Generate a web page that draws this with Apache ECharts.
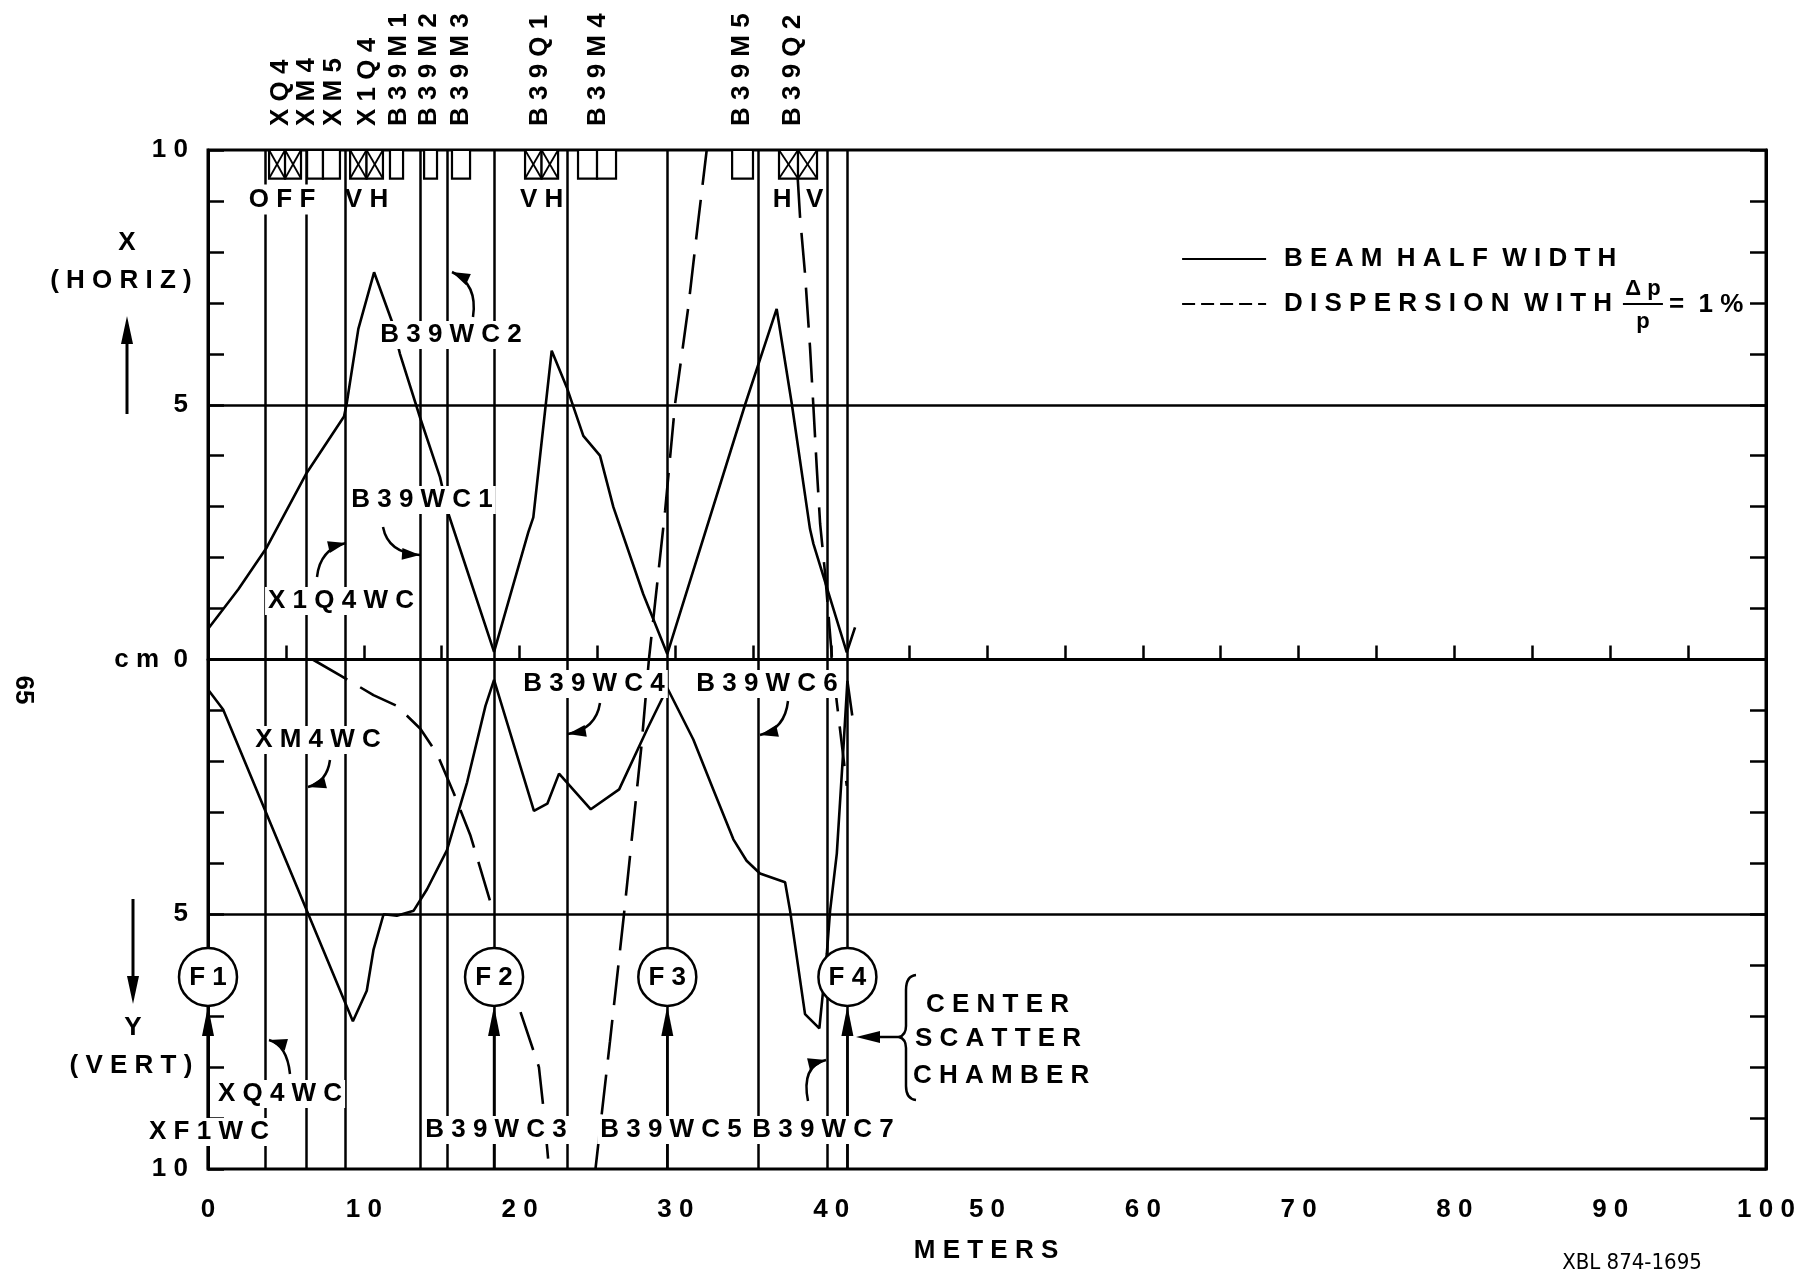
<!DOCTYPE html>
<html>
<head>
<meta charset="utf-8">
<script src="https://cdn.jsdelivr.net/npm/echarts@6/dist/echarts.min.js"></script>
<style>
html,body{margin:0;padding:0;background:#fff;}
#chart{width:1812px;height:1271px;}
</style>
</head>
<body>
<div id="chart"></div>
<script>
// ===================== DATA =====================
// x in meters along the beam line, y in cm (positive = X horizontal, negative = Y vertical)
const xTickValues = [0, 10, 20, 30, 40, 50, 60, 70, 80, 90, 100];
const yTickText = { '10': '10', '5': '5', '0': 'cm 0', '-5': '5', '-10': '10' };

const beamHalfWidthX = [
  [0, 0.60], [1.95, 1.38], [3.77, 2.20], [6.29, 3.64], [8.73, 4.77], [8.90, 5.02],
  [9.65, 6.49], [10.66, 7.60], [11.79, 6.65], [12.32, 6.00], [13.61, 4.75], [14.89, 3.58],
  [15.43, 2.86], [18.36, 0.15], [20.56, 2.50], [20.88, 2.79], [22.06, 6.06], [23.03, 5.34],
  [24.09, 4.39], [25.16, 4.00], [26.02, 2.99], [27.94, 1.28], [29.48, 0.11], [34.47, 5.00],
  [36.50, 6.88], [37.47, 5.02], [38.64, 2.56], [38.86, 2.27], [41.00, 0.14], [41.53, 0.63]
];
const beamHalfWidthY = [
  [0, -0.59], [0.97, -0.98], [9.30, -7.10], [10.19, -6.50], [10.62, -5.70], [11.27, -5.00],
  [12.12, -5.03], [13.20, -4.93], [14.06, -4.51], [15.34, -3.74], [16.63, -2.41], [17.81, -0.91],
  [18.36, -0.40], [20.92, -2.97], [21.78, -2.83], [22.53, -2.24], [24.57, -2.94], [26.39, -2.55],
  [28.20, -1.36], [29.48, -0.56], [31.15, -1.57], [32.43, -2.55], [33.72, -3.53], [34.57, -3.95],
  [35.43, -4.20], [37.04, -4.37], [37.36, -4.93], [38.32, -6.96], [39.24, -7.24], [39.72, -5.77],
  [39.93, -4.93], [40.36, -3.81], [40.79, -1.71], [41.04, -0.42], [41.35, -1.10]
];
const dispersion1 = [
  [6.72, 0.00], [8.48, -0.31], [10.62, -0.70], [12.12, -0.91], [13.63, -1.36],
  [14.70, -1.85], [15.77, -2.62], [16.85, -3.46], [18.36, -5.00]
];
const dispersion2 = [[20.06, -6.92], [21.24, -8.00], [21.57, -8.92], [21.89, -10.00]];
const dispersion3 = [
  [24.87, -10.00], [25.80, -7.50], [26.70, -5.00], [27.82, -1.70], [28.30, 0.00],
  [29.34, 2.92], [29.98, 5.02], [30.83, 6.92], [31.47, 8.62], [32.01, 10.00]
];
const dispersion4 = [
  [37.85, 9.45], [38.00, 8.69], [38.32, 7.57], [38.64, 6.13], [38.86, 4.95], [39.07, 3.78],
  [39.29, 2.66], [39.61, 1.68], [39.82, 0.89], [40.04, 0.07], [40.36, -0.84], [41.00, -2.48]
];

const wireChamberPositions = [3.70, 6.29, 8.84, 13.61, 15.36, 18.36, 23.03, 29.48, 35.29, 39.72, 41.04];
const gridLevels = [5, 0, -5];

const focusNames = ['F1', 'F2', 'F3', 'F4'];
const focusPositions = [0, 18.36, 29.48, 41.04];

const magnetNames = ['XQ4', 'XM4', 'XM5', 'X1Q4', 'B39M1', 'B39M2', 'B39M3', 'B39Q1', 'B39M4', 'B39M5', 'B39Q2'];
const magnetLabelPositions = [4.70, 6.35, 8.05, 10.24, 12.28, 14.20, 16.20, 21.30, 25.00, 34.25, 37.55];
const quadrupoles = [[3.92, 5.97], [9.12, 11.23], [20.35, 22.47], [36.65, 39.09]];
const quadSettings = ['OFF', 'VH', 'VH', 'H V'];
const dipoles = [[6.36, 7.38], [7.38, 8.47], [11.68, 12.52], [13.87, 14.70], [15.66, 16.82],
                 [23.75, 24.97], [24.97, 26.19], [33.64, 34.98]];

const chamberLabels = ['XF1WC', 'XQ4WC', 'XM4WC', 'X1Q4WC', 'B39WC1', 'B39WC2', 'B39WC3',
                       'B39WC4', 'B39WC5', 'B39WC6', 'B39WC7'];
const legendNames = ['BEAM HALF WIDTH', 'DISPERSION WITH'];

// ===================== LAYOUT / STYLE =====================
const FONT = "'Liberation Sans', Arial, sans-serif";
const FS = 26;
const BOLD = `bold ${FS}px ${FONT}`;
const sp = s => s.split(' ').map(w => w.split('').join(' ')).join('  ');
const G = { left: 208, right: 46, top: 150, bottom: 102 };
const FOCUS_LEVEL = -6.23;
const MAGNET_BOTTOM = 9.44;

// label layout (pixel centers)
const chamberLabelPos = [
  [209, 1132], [280, 1094], [318, 740], [341, 601], [422, 500], [451, 335],
  [496, 1130], [594, 684], [671, 1130], [767, 684], [823, 1130]
];
// curved arrows: start, control, tip
const arrowPaths = [
  [290, 1074, 287, 1045, 269, 1040],
  [330, 760, 327, 782, 308, 787],
  [317, 577, 320, 549, 346, 543],
  [383, 527, 388, 553, 420, 555],
  [473, 317, 478, 284, 452, 272],
  [600, 703, 596, 729, 568, 734],
  [788, 701, 785, 729, 760, 735],
  [808, 1101, 801, 1066, 826, 1060]
];

function arrowHead(tx, ty, fx, fy, len, hw) {
  len = len || 20; hw = hw || 6;
  const dx = tx - fx, dy = ty - fy, L = Math.hypot(dx, dy) || 1;
  const ux = dx / L, uy = dy / L;
  const bx = tx - ux * len, by = ty - uy * len;
  return { type: 'polygon', z: 101, silent: true,
    shape: { points: [[tx, ty], [bx - uy * hw, by + ux * hw], [bx + uy * hw, by - ux * hw]] },
    style: { fill: '#000' } };
}
function textEl(s, x, y, opt) {
  opt = opt || {};
  const st = { text: s, font: opt.font || BOLD, fill: '#000',
    align: opt.align || 'center', verticalAlign: 'middle',
    textAlign: opt.align || 'center', textVerticalAlign: 'middle' };
  if (opt.bg) { st.backgroundColor = '#fff'; st.padding = [1, 3]; }
  return { type: 'text', x, y, z: opt.z || 100, rotation: opt.rot || 0, silent: true, style: st };
}
function seg(x1, y1, x2, y2, w) {
  return { type: 'line', z: 101, silent: true, shape: { x1, y1, x2, y2 }, style: { stroke: '#000', lineWidth: w || 2.5 } };
}
function bez(x1, y1, cx, cy, x2, y2, w) {
  return { type: 'bezierCurve', z: 101, silent: true,
    shape: { x1, y1, cpx1: cx, cpy1: cy, x2, y2 }, style: { stroke: '#000', lineWidth: w || 2.5, fill: null } };
}

// ===================== GRAPHIC ANNOTATIONS =====================
const graphics = [];
chamberLabels.forEach((s, i) => graphics.push(textEl(sp(s), chamberLabelPos[i][0], chamberLabelPos[i][1], { bg: true })));
arrowPaths.forEach(a => {
  graphics.push(bez(a[0], a[1], a[2], a[3], a[4], a[5]));
  graphics.push(arrowHead(a[4], a[5], a[2], a[3], 18, 6));
});
// center scatter chamber
graphics.push(textEl(sp('CENTER'), 926, 1005, { align: 'left' }));
graphics.push(textEl(sp('SCATTER'), 915, 1039, { align: 'left' }));
graphics.push(textEl(sp('CHAMBER'), 913, 1076, { align: 'left' }));
graphics.push(bez(916, 975, 906, 976, 906, 990));
graphics.push(seg(906, 990, 906, 1026));
graphics.push(bez(906, 1026, 906, 1035, 899, 1037));
graphics.push(bez(899, 1037, 906, 1039, 906, 1048));
graphics.push(seg(906, 1048, 906, 1086));
graphics.push(bez(906, 1086, 906, 1099, 916, 1100));
graphics.push(seg(899, 1037, 870, 1037));
graphics.push(arrowHead(856, 1037, 899, 1037, 24, 6));
// left side axis titles
graphics.push(textEl('X', 127, 243));
graphics.push(textEl(sp('(HORIZ)'), 121, 281));
graphics.push(seg(127, 414, 127, 335, 3));
graphics.push(arrowHead(127, 316, 127, 414, 28, 6));
graphics.push(seg(133, 899, 133, 985, 3));
graphics.push(arrowHead(133, 1004, 133, 899, 28, 6));
graphics.push(textEl('Y', 133, 1028));
graphics.push(textEl(sp('(VERT)'), 131, 1066));
graphics.push(textEl('65', 23, 690, { rot: -Math.PI / 2 }));
graphics.push(textEl(sp('METERS'), 986, 1251));
graphics.push(textEl('XBL 874-1695', 1632, 1263, { font: `22px 'Liberation Sans Narrow', 'DejaVu Sans Condensed', ${FONT}` }));

// legend fraction, placed after the measured legend text
const LEG_LEFT = 1181, LEG_TOP = 244, LEG_ICON = 84, LEG_PAD = 13;
const mctx = document.createElement('canvas').getContext('2d');
mctx.font = BOLD;
const dispTextW = mctx.measureText(sp(legendNames[1])).width;
const fracX = LEG_LEFT + LEG_ICON + 5 + LEG_PAD + dispTextW + 12;
graphics.push(textEl('\u0394 p', fracX + 20, 289, { font: `bold 22px ${FONT}` }));
graphics.push(seg(fracX, 304, fracX + 40, 304, 2));
graphics.push(textEl('p', fracX + 20, 322, { font: `bold 22px ${FONT}` }));
graphics.push(textEl('=  1 %', fracX + 46, 305, { align: 'left' }));

// ===================== CUSTOM RENDERERS =====================
function renderMagnet(params, api) {
  const x0 = api.value(0), x1 = api.value(1), crossed = api.value(2) === 1, qi = api.value(3);
  const tl = api.coord([x0, 10]), br = api.coord([x1, MAGNET_BOTTOM]);
  const mid = (tl[0] + br[0]) / 2;
  const halves = crossed ? [[tl[0], mid], [mid, br[0]]] : [[tl[0], br[0]]];
  const children = [];
  halves.forEach(h => {
    children.push({ type: 'rect', shape: { x: h[0], y: tl[1], width: h[1] - h[0], height: br[1] - tl[1] },
      style: { fill: '#fff', stroke: '#000', lineWidth: 2.2 } });
    if (crossed) {
      children.push({ type: 'line', shape: { x1: h[0], y1: tl[1], x2: h[1], y2: br[1] }, style: { stroke: '#000', lineWidth: 1.8 } });
      children.push({ type: 'line', shape: { x1: h[1], y1: tl[1], x2: h[0], y2: br[1] }, style: { stroke: '#000', lineWidth: 1.8 } });
    }
  });
  if (crossed && qi >= 0) {
    const s = quadSettings[qi];
    const st = { text: s === 'H V' ? 'H  V' : sp(s), font: BOLD, fill: '#000', align: 'center', verticalAlign: 'middle' };
    if (s === 'OFF') { st.backgroundColor = '#fff'; st.padding = [2, 4]; }
    children.push({ type: 'text', x: mid - (s === 'OFF' ? 3 : 0), y: br[1] + 21, style: st });
  }
  return { type: 'group', children };
}
function renderMagnetLabel(params, api) {
  const p = api.coord([api.value(0), 10]);
  return { type: 'text', x: p[0], y: p[1] - 24, rotation: Math.PI / 2,
    style: { text: sp(magnetNames[api.value(1)]), font: BOLD, fill: '#000', align: 'left', verticalAlign: 'middle' } };
}
function renderFocus(params, api) {
  const x = api.value(0), i = api.value(1);
  const c = api.coord([x, FOCUS_LEVEL]);
  const bottom = api.coord([x, -10])[1];
  const r = 29, tipY = c[1] + r;
  return { type: 'group', children: [
    { type: 'line', shape: { x1: c[0], y1: tipY + 20, x2: c[0], y2: bottom }, style: { stroke: '#000', lineWidth: 2.5 } },
    { type: 'polygon', shape: { points: [[c[0], tipY], [c[0] - 6, tipY + 30], [c[0] + 6, tipY + 30]] }, style: { fill: '#000' } },
    { type: 'circle', shape: { cx: c[0], cy: c[1], r }, style: { fill: '#fff', stroke: '#000', lineWidth: 2.5 } },
    { type: 'text', x: c[0], y: c[1] + 1, style: { text: sp(focusNames[i]), font: BOLD, fill: '#000', align: 'center', verticalAlign: 'middle' } }
  ] };
}

// ===================== OPTION =====================
const solid = { color: '#000', width: 2.6, type: 'solid' };
const dashed = { color: '#000', width: 2.6, type: [40, 15] };
function curve(name, data, ls) {
  return { name, type: 'line', data, showSymbol: false, symbol: 'none', smooth: false, z: 3,
    lineStyle: ls, itemStyle: { color: '#000' }, silent: true, clip: true };
}

const option = {
  animation: false,
  backgroundColor: '#fff',
  textStyle: { fontFamily: FONT },
  grid: { left: G.left, right: G.right, top: G.top, bottom: G.bottom, show: true, borderColor: '#000', borderWidth: 3, containLabel: false },
  legend: {
    left: LEG_LEFT, top: LEG_TOP, padding: 0, orient: 'vertical', itemWidth: LEG_ICON, itemHeight: 14, itemGap: 15,
    selectedMode: false,
    formatter: n => sp(n),
    itemStyle: { color: 'rgba(0,0,0,0)', borderWidth: 0, opacity: 0 },
    textStyle: { fontSize: FS, fontWeight: 'bold', fontFamily: FONT, color: '#000', lineHeight: 30, padding: [0, 0, 0, LEG_PAD] },
    data: [
      { name: legendNames[0], lineStyle: { type: 'solid', width: 2.2, color: '#000' } },
      { name: legendNames[1], lineStyle: { type: [13, 6], width: 2.2, color: '#000' } }
    ]
  },
  xAxis: [{
    type: 'value', min: 0, max: 100, interval: 5, position: 'bottom',
    axisLine: { lineStyle: { color: '#000', width: 3 } },
    axisTick: { inside: true, length: 14, lineStyle: { color: '#000', width: 2.5 } },
    axisLabel: { formatter: v => (xTickValues.indexOf(v) >= 0 ? sp(String(v)) : ''), fontSize: FS, fontWeight: 'bold', color: '#000', margin: 28, fontFamily: FONT },
    splitLine: { show: false }
  }],
  yAxis: [{
    type: 'value', min: -10, max: 10, interval: 1, position: 'left',
    axisLine: { lineStyle: { color: '#000', width: 3 } },
    axisTick: { inside: true, length: 16, lineStyle: { color: '#000', width: 2.5 } },
    axisLabel: { formatter: v => { const t = yTickText[String(Math.round(v))]; return t ? sp(t) : ''; }, fontSize: FS, fontWeight: 'bold', color: '#000', margin: 20, fontFamily: FONT },
    splitLine: { show: false }
  }, {
    type: 'value', min: -10, max: 10, interval: 1, position: 'right',
    axisLine: { show: true, lineStyle: { color: '#000', width: 3 } },
    axisTick: { inside: true, length: 16, lineStyle: { color: '#000', width: 2.5 } },
    axisLabel: { show: false }, splitLine: { show: false }
  }],
  series: [
    { name: 'frame', type: 'line', data: [[0, 0]], symbol: 'none', lineStyle: { width: 0 }, z: 1, silent: true,
      markLine: { silent: true, symbol: ['none', 'none'], label: { show: false }, animation: false,
        lineStyle: { color: '#000', width: 2.5, type: 'solid' },
        emphasis: { disabled: true },
        data: gridLevels.map(v => ({ yAxis: v })).concat(wireChamberPositions.map(v => ({ xAxis: v }))) } },
    curve(legendNames[0], beamHalfWidthX, solid),
    curve(legendNames[0], beamHalfWidthY, solid),
    curve(legendNames[1], dispersion1, dashed),
    curve(legendNames[1], dispersion2, dashed),
    curve(legendNames[1], dispersion3, dashed),
    curve(legendNames[1], dispersion4, dashed),
    { name: 'magnets', type: 'custom', z: 6, silent: true, clip: false, renderItem: renderMagnet,
      encode: { x: [0, 1] },
      data: dipoles.map(d => [d[0], d[1], 0, -1]).concat(quadrupoles.map((q, i) => [q[0], q[1], 1, i])) },
    { name: 'magnetLabels', type: 'custom', z: 6, silent: true, clip: false, renderItem: renderMagnetLabel,
      encode: { x: 0 }, data: magnetLabelPositions.map((x, i) => [x, i]) },
    { name: 'focus', type: 'custom', z: 7, silent: true, clip: false, renderItem: renderFocus,
      encode: { x: 0 }, data: focusPositions.map((x, i) => [x, i]) }
  ],
  graphic: { elements: graphics }
};

const chart = echarts.init(document.getElementById('chart'), null, { renderer: 'canvas' });
chart.setOption(option);
</script>
</body>
</html>
